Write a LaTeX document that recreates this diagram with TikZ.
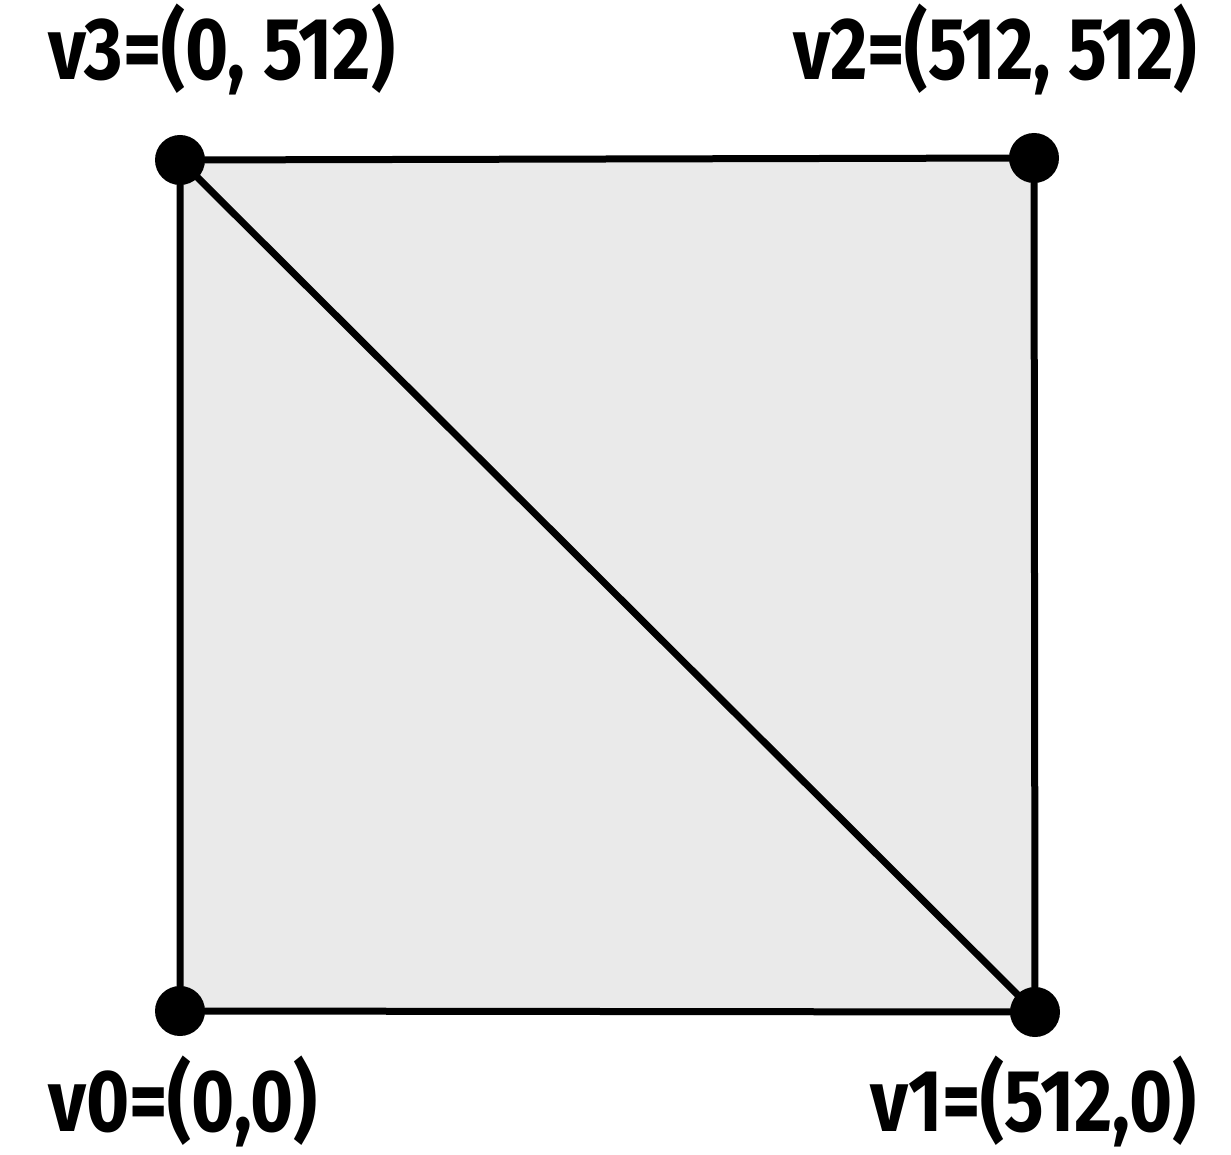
\documentclass[tikz,border=0pt]{standalone}
\usepackage{fontspec}
\setmainfont{Fira Sans}
\begin{document}
\begin{tikzpicture}[x=1pt,y=-1pt,
  vdot/.style={circle,fill=black,inner sep=0pt,minimum size=50pt},
  edge/.style={line width=7pt,line join=round},
  lab/.style={inner sep=0pt,font=\fontsize{88}{96}\selectfont\bfseries}]
\useasboundingbox (0,0) rectangle (1231,1155);
\fill[fill=white] (0,0) rectangle (1231,1155);
\coordinate (p3) at (180,160);
\coordinate (p2) at (1034,158);
\coordinate (p0) at (180,1011);
\coordinate (p1) at (1035,1012);
\fill[fill={rgb,255:red,234;green,234;blue,234}] (p0) -- (p1) -- (p2) -- (p3) -- cycle;
\draw[edge] (p0) -- (p1) -- (p2) -- (p3) -- cycle;
\draw[edge] (p3) -- (p1);
\node[vdot] (v0) at (p0) {};
\node[vdot] (v1) at (p1) {};
\node[vdot] (v2) at (p2) {};
\node[vdot] (v3) at (p3) {};
\node[lab,anchor=base west] (l3) at (48,80) {\scalebox{0.84}[1]{v3=(0, 512)}};
\node[lab,anchor=base east] (l2) at (1197,80) {\scalebox{0.82}[1]{v2=(512, 512)}};
\node[lab,anchor=base west] (l0) at (48,1131) {\scalebox{0.84}[1]{v0=(0,0)}};
\node[lab,anchor=base east] (l1) at (1197,1131) {\scalebox{0.84}[1]{v1=(512,0)}};
\end{tikzpicture}
\end{document}
